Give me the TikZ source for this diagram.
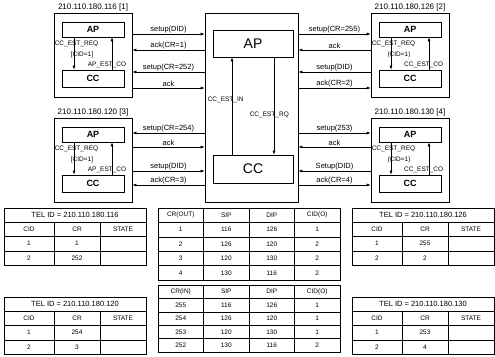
\documentclass[tikz,border=0pt]{standalone}
\usepackage{fontspec}
\setmainfont{Liberation Sans}
\usetikzlibrary{arrows.meta,calc,positioning}

\begin{document}
\begin{tikzpicture}[x=1pt,y=-1pt,line width=.6pt,
    >={Latex[length=4pt,width=3pt]},
    host/.style={draw,minimum width=78pt,minimum height=84pt,inner sep=0pt},
    unit/.style={draw,minimum width=62pt,inner sep=0pt,font=\fontsize{9}{10}\selectfont\bfseries},
    bigunit/.style={draw,minimum width=80pt,inner sep=0pt,font=\fontsize{14}{16}\selectfont},
    msg/.style={font=\fontsize{7.5}{8}\selectfont,inner sep=1pt},
    tag/.style={font=\fontsize{6.5}{7}\selectfont,inner sep=.5pt},
    cell/.style={font=\fontsize{6.5}{7}\selectfont,inner sep=0pt}]
  \useasboundingbox (0,0) rectangle (495,356);

  % exchange in the middle
  \node[draw,minimum width=93pt,minimum height=189pt,inner sep=0pt] (ctr) at (251.5,107.5) {};
  \node[bigunit,minimum height=27pt] (cap) at (253,43.5) {AP};
  \node[bigunit,minimum height=28pt] (ccc) at (253,169) {CC};
  \draw[->] ([xshift=-21pt]ccc.north) -- ([xshift=-21pt]cap.south);
  \draw[->] ([xshift=21pt]cap.south) -- ([xshift=21pt]ccc.north);
  \node[tag,anchor=west] (estin) at (207,100) {CC\_EST\_IN};
  \node[tag,anchor=west] (estrq) at (249,115) {CC\_EST\_RQ};

  % the four telephones
  \foreach \i/\x/\y/\ip/\c/\o in {1/93/55/116/[CID=1]/AP, 2/410/55/126/(CID=1)/CC,
      3/93/160/120/[CID=1]/AP, 4/410/160/130/(CID=1)/CC} {
    \node[host] (b\i) at (\x,\y) {};
    \node[msg,anchor=south,font=\fontsize{8}{9}\selectfont] (ttl\i) at (b\i.north) {210.110.180.\ip\ [\i]};
    \node[unit,minimum height=15pt] (ap\i) at (\x,\y-25.5) {AP};
    \node[unit,minimum height=17pt] (cc\i) at (\x,\y+23.5) {CC};
    \draw[->] ([xshift=-19pt]ap\i.south) -- ([xshift=-19pt]cc\i.north);
    \draw[->] ([xshift=19pt]cc\i.north) -- ([xshift=19pt]ap\i.south);
    \node[tag,anchor=west] (req\i) at (\x-39,\y-11) {CC\_EST\_REQ};
    \node[tag] (cid\i) at (\x-11,\y) {\c};
    \node[tag,anchor=east] (co\i) at (\x+34,\y+10) {\o\_EST\_CO};
  }

  % messages
  \foreach \y/\d/\t [count=\k] in {34/->/setup(DID), 50/<-/ack(CR=1), 72/<-/setup(CR=252), 88/->/ack}
    \draw[\d] (b1.east |- 0,\y) -- node[msg,above] (ma\k) {\t} (ctr.west |- 0,\y);
  \foreach \y/\d/\t [count=\k] in {34/->/setup(CR=255), 50/<-/ack, 72/<-/setup(DID), 88/->/ack(CR=2)}
    \draw[\d] (ctr.east |- 0,\y) -- node[msg,above] (mb\k) {\t} (b2.west |- 0,\y);
  \foreach \y/\d/\t [count=\k] in {133/<-/setup(CR=254), 147/->/ack, 171/->/setup(DID), 185/<-/ack(CR=3)}
    \draw[\d] (b3.east |- 0,\y) -- node[msg,above] (mc\k) {\t} (ctr.west |- 0,\y);
  \foreach \y/\d/\t [count=\k] in {133/->/setup(253), 147/<-/ack, 171/<-/Setup(DID), 185/->/ack(CR=4)}
    \draw[\d] (ctr.east |- 0,\y) -- node[msg,above] (md\k) {\t} (b4.west |- 0,\y);

  % TEL ID tables
  \foreach \x/\y/\ip/\a/\b in {4/208/116/1/252, 352/208/126/255/2, 4/297/120/254/3, 352/297/130/253/4} {
    \draw (\x,\y) rectangle ++(142,57);
    \foreach \r in {14,28.5,43} \draw (\x,\y+\r) -- ++(142,0);
    \draw (\x+50,\y+14) -- ++(0,43);
    \draw (\x+96,\y+14) -- ++(0,43);
    \node[msg] (tel\ip) at (\x+71,\y+7) {TEL ID = 210.110.180.\ip};
    \node[cell] (cid\ip) at (\x+25,\y+21.25) {CID};
    \node[cell] (cr\ip) at (\x+73,\y+21.25) {CR};
    \node[cell] (st\ip) at (\x+119,\y+21.25) {STATE};
    \node[cell] (cida\ip) at (\x+25,\y+35.75) {1};
    \node[cell] (cra\ip) at (\x+73,\y+35.75) {\a};
    \node[cell] (cidb\ip) at (\x+25,\y+50) {2};
    \node[cell] (crb\ip) at (\x+73,\y+50) {\b};
  }

  % CR tables
  \draw (158,208) rectangle (340,280);
  \foreach \r in {1,...,4} \draw (158,208+14.4*\r) -- (340,208+14.4*\r);
  \foreach \c in {1,2,3} \draw (158+45.5*\c,208) -- (158+45.5*\c,280);
  \foreach \a/\b/\c/\d [count=\r from 0] in {CR(OUT)/SIP/DIP/CID(O), 1/116/126/1, 2/126/120/2,
      3/120/130/2, 4/130/116/2} {
    \node[cell] (out-\r-1) at (180.75,215.2+14.4*\r) {\a};
    \node[cell] (out-\r-2) at (226.25,215.2+14.4*\r) {\b};
    \node[cell] (out-\r-3) at (271.75,215.2+14.4*\r) {\c};
    \node[cell] (out-\r-4) at (317.25,215.2+14.4*\r) {\d};
  }
  \draw (158,285) rectangle (340,352);
  \foreach \r in {1,...,4} \draw (158,285+13.4*\r) -- (340,285+13.4*\r);
  \foreach \c in {1,2,3} \draw (158+45.5*\c,285) -- (158+45.5*\c,352);
  \foreach \a/\b/\c/\d [count=\r from 0] in {CR(IN)/SIP/DIP/CID(O), 255/116/126/1, 254/126/120/1,
      253/120/130/1, 252/130/116/2} {
    \node[cell] (in-\r-1) at (180.75,291.7+13.4*\r) {\a};
    \node[cell] (in-\r-2) at (226.25,291.7+13.4*\r) {\b};
    \node[cell] (in-\r-3) at (271.75,291.7+13.4*\r) {\c};
    \node[cell] (in-\r-4) at (317.25,291.7+13.4*\r) {\d};
  }
\end{tikzpicture}
\end{document}
